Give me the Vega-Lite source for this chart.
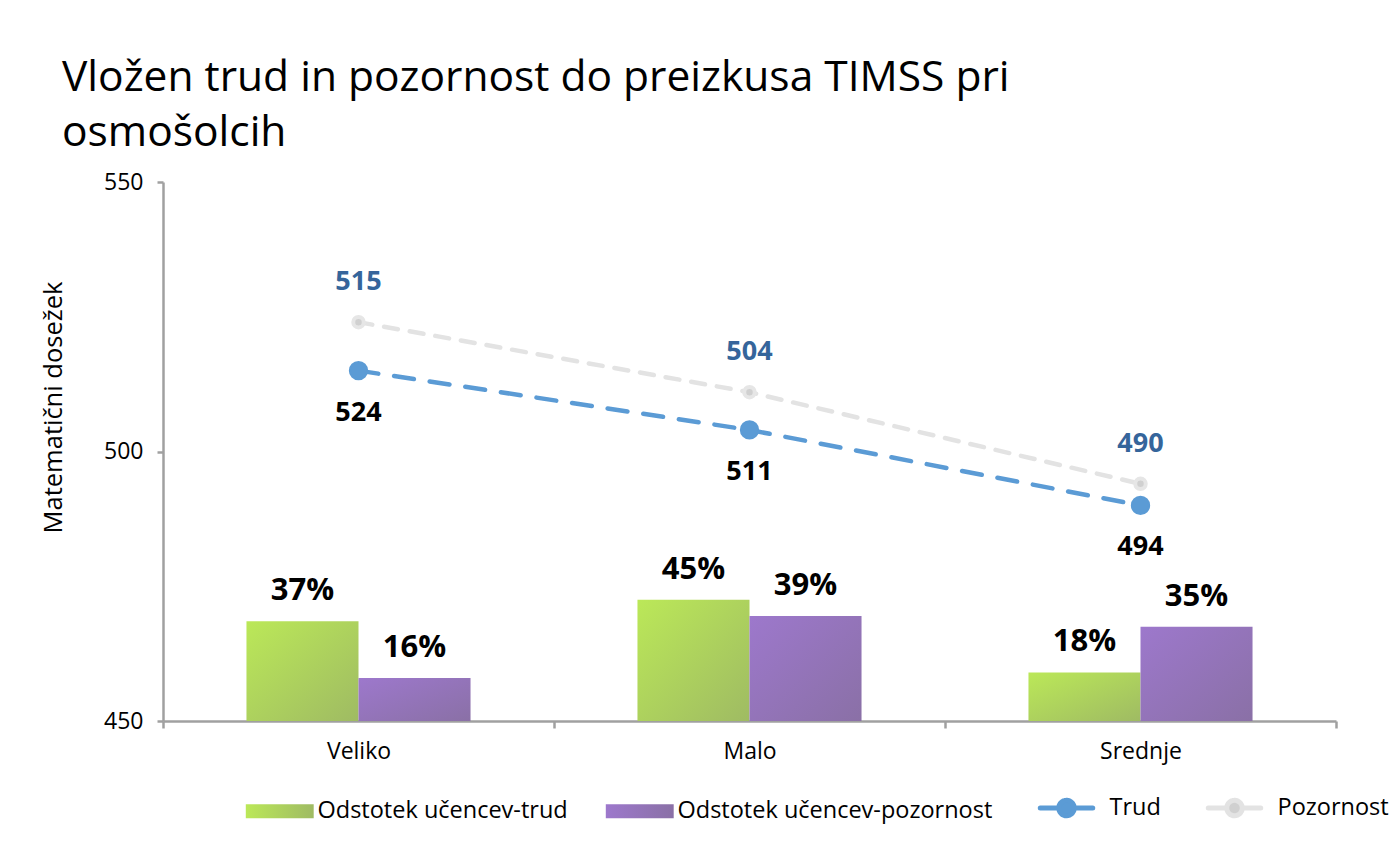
{
  "$schema": "https://vega.github.io/schema/vega-lite/v6.json",
  "width": 1173,
  "height": 539,
  "autosize": {"type": "none"},
  "padding": {"left": 163, "top": 182, "right": 60, "bottom": 142},
  "background": "white",
  "config": {"font": "Open Sans", "view": {"stroke": null}},
  "title": {
    "text": ["Vložen trud in pozornost do preizkusa TIMSS pri", "osmošolcih"],
    "anchor": "start",
    "frame": "group",
    "dx": -101,
    "offset": 17,
    "fontSize": 42.5,
    "fontWeight": "normal",
    "color": "black",
    "lineHeight": 55
  },
  "datasets": {
    "pct": [
      {"kat": "Veliko", "series": "Odstotek učencev-trud", "pct": 0.37},
      {"kat": "Veliko", "series": "Odstotek učencev-pozornost", "pct": 0.16},
      {"kat": "Malo", "series": "Odstotek učencev-trud", "pct": 0.45},
      {"kat": "Malo", "series": "Odstotek učencev-pozornost", "pct": 0.39},
      {"kat": "Srednje", "series": "Odstotek učencev-trud", "pct": 0.18},
      {"kat": "Srednje", "series": "Odstotek učencev-pozornost", "pct": 0.35}
    ],
    "scores": [
      {"kat": "Veliko", "Trud": 515, "Pozornost": 524},
      {"kat": "Malo", "Trud": 504, "Pozornost": 511},
      {"kat": "Srednje", "Trud": 490, "Pozornost": 494}
    ]
  },
  "encoding": {
    "x": {
      "field": "kat",
      "type": "nominal",
      "sort": ["Veliko", "Malo", "Srednje"],
      "scale": {"paddingInner": 0, "paddingOuter": 0},
      "axis": {
        "title": null,
        "labelAngle": 0,
        "labelFontSize": 23,
        "labelColor": "black",
        "labelPadding": 12,
        "domainColor": "#a0a0a0",
        "domainWidth": 2.5,
        "tickColor": "#a0a0a0",
        "tickWidth": 2.5,
        "tickSize": 7,
        "tickBand": "extent"
      }
    }
  },
  "layer": [
    {
      "data": {"name": "scores"},
      "layer": [
        {
          "transform": [{"fold": ["Trud", "Pozornost"], "as": ["series", "score"]}],
          "mark": {"type": "line", "strokeWidth": 4.5, "strokeCap": "round"},
          "encoding": {
            "y": {
              "field": "score",
              "type": "quantitative",
              "scale": {"domain": [450, 550]},
              "axis": {
                "title": "Matematični dosežek",
                "orient": "left",
                "values": [450, 500, 550],
                "grid": false,
                "domainColor": "#a0a0a0",
                "domainWidth": 2.5,
                "tickColor": "#a0a0a0",
                "tickWidth": 2.5,
                "tickSize": 6,
                "labelFontSize": 23,
                "labelColor": "black",
                "labelPadding": 14,
                "titleFontSize": 25.5,
                "titleFontWeight": "normal",
                "titleColor": "black",
                "titleAngle": -90,
                "titleX": -110,
                "titleY": 225,
                "titleAlign": "center",
                "titleBaseline": "middle"
              }
            },
            "color": {
              "field": "series",
              "type": "nominal",
              "scale": {
                "domain": ["Odstotek učencev-trud", "Odstotek učencev-pozornost", "Trud", "Pozornost"],
                "range": ["#aed25c", "#9577bd", "#5b9bd5", "#e3e3e3"]
              },
              "legend": {
                "title": null,
                "orient": "none",
                "legendX": 105,
                "legendY": 614,
                "direction": "horizontal",
                "padding": 0,
                "symbolSize": 4900,
                "labelFontSize": 23.5,
                "labelColor": "black",
                "labelLimit": 500,
                "labelOffset": 26,
                "columnPadding": 37,
                "encode": {
                  "symbols": {
                    "update": {
                      "size": {"value": 4900},
                      "shape": {"signal": "datum.value === 'Trud' || datum.value === 'Pozornost' ? 'M-0.9,0H-0.4M0.1,0H0.6M-0.37,0A0.22,0.22 0 1 1 0.07,0A0.22,0.22 0 1 1 -0.37,0' : 'M-0.97,-0.2H0.97V0.2H-0.97Z'"},
                      "fill": {"signal": "datum.value === 'Trud' ? '#5b9bd5' : datum.value === 'Pozornost' ? '#d0d0d0' : datum.value === 'Odstotek učencev-trud' ? {gradient: 'linear', x1: 0, y1: 0, x2: 1, y2: 0, stops: [{offset: 0, color: '#bbe858'}, {offset: 1, color: '#9fbb63'}]} : {gradient: 'linear', x1: 0, y1: 0, x2: 1, y2: 0, stops: [{offset: 0, color: '#9d78cc'}, {offset: 1, color: '#8a70a6'}]}"},
                      "stroke": {"signal": "datum.value === 'Trud' ? '#5b9bd5' : datum.value === 'Pozornost' ? '#e4e4e4' : null"},
                      "strokeWidth": {"signal": "datum.value === 'Trud' || datum.value === 'Pozornost' ? 5 : 0"},
                      "strokeDash": {"value": [1, 0]},
                      "strokeCap": {"value": "round"},
                      "opacity": {"value": 1},
                      "fillOpacity": {"value": 1},
                      "strokeOpacity": {"value": 1}
                    }
                  }
                }
              }
            },
            "strokeDash": {
              "field": "series",
              "type": "nominal",
              "scale": {"domain": ["Trud", "Pozornost"], "range": [[20, 16], [14, 12]]},
              "legend": null
            }
          }
        },
        {
          "mark": {"type": "point", "filled": true, "size": 300, "fill": "#5b9bd5", "stroke": "#5b9bd5", "strokeWidth": 2, "opacity": 1},
          "encoding": {"y": {"field": "Trud", "type": "quantitative", "scale": {"domain": [450, 550]}}}
        },
        {
          "mark": {"type": "point", "filled": true, "size": 110, "fill": "#d0d0d0", "stroke": "#e6e6e6", "strokeWidth": 4, "opacity": 1},
          "encoding": {"y": {"field": "Pozornost", "type": "quantitative", "scale": {"domain": [450, 550]}}}
        },
        {
          "mark": {"type": "text", "dy": -40, "fontSize": 27, "fontWeight": "bold", "color": "#35659b"},
          "encoding": {
            "y": {"field": "Pozornost", "type": "quantitative", "scale": {"domain": [450, 550]}},
            "text": {"field": "Trud", "type": "quantitative"}
          }
        },
        {
          "mark": {"type": "text", "dy": 42, "fontSize": 27, "fontWeight": "bold", "color": "black"},
          "encoding": {
            "y": {"field": "Trud", "type": "quantitative", "scale": {"domain": [450, 550]}},
            "text": {"field": "Pozornost", "type": "quantitative"}
          }
        }
      ]
    },
    {
      "data": {"name": "pct"},
      "encoding": {
        "xOffset": {
          "field": "series",
          "type": "nominal",
          "sort": ["Odstotek učencev-trud", "Odstotek učencev-pozornost"],
          "scale": {"paddingInner": 0, "paddingOuter": 0.745}
        },
        "y": {
          "field": "pct",
          "type": "quantitative",
          "scale": {"domain": [0, 2]},
          "axis": null
        }
      },
      "layer": [
        {
          "transform": [{"filter": "datum.series === 'Odstotek učencev-trud'"}],
          "mark": {
            "type": "bar",
            "fill": {
              "gradient": "linear", "x1": 0, "y1": 0, "x2": 1, "y2": 1,
              "stops": [{"offset": 0, "color": "#bbe858"}, {"offset": 1, "color": "#9fbb63"}]
            }
          }
        },
        {
          "transform": [{"filter": "datum.series === 'Odstotek učencev-pozornost'"}],
          "mark": {
            "type": "bar",
            "fill": {
              "gradient": "linear", "x1": 0, "y1": 0, "x2": 1, "y2": 1,
              "stops": [{"offset": 0, "color": "#9d78cc"}, {"offset": 1, "color": "#8a70a6"}]
            }
          }
        },
        {
          "mark": {"type": "text", "dy": -30, "fontSize": 31, "fontWeight": "bold", "color": "black"},
          "encoding": {"text": {"field": "pct", "type": "quantitative", "format": ".0%"}}
        }
      ]
    }
  ],
  "resolve": {"scale": {"y": "independent"}}
}
